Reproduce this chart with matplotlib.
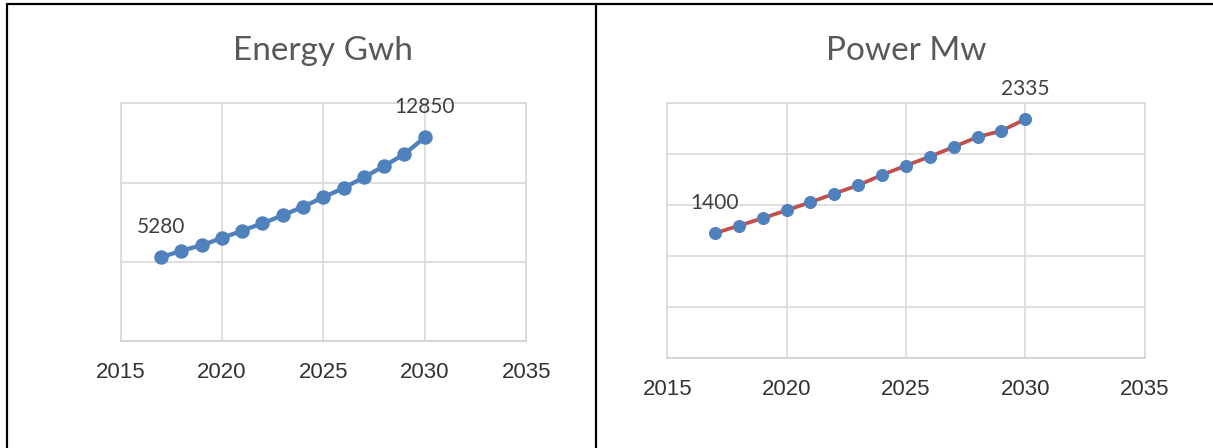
import matplotlib
matplotlib.use("Agg")
import matplotlib.pyplot as plt
from matplotlib.lines import Line2D
import numpy as np

years = [2017, 2018, 2019, 2020, 2021, 2022, 2023, 2024, 2025, 2026, 2027, 2028, 2029, 2030]
energy_gwh = [5280, 5700, 6040, 6500, 6960, 7430, 7930, 8475, 9070, 9655, 10330, 11045, 11800, 12850]
power_mw = [1400, 1462, 1523, 1588, 1654, 1725, 1793, 1878, 1954, 2028, 2107, 2189, 2239, 2335]
x_ticks = [2015, 2020, 2025, 2030, 2035]
titles = ["Energy Gwh", "Power Mw"]

W, H = 1213, 448
fig = plt.figure(figsize=(W / 100, H / 100), dpi=100)
fig.patch.set_facecolor("white")

grid_c = "#D9D9D9"
blue = "#4F81BD"
red = "#C0504D"
tick_c = "#333333"
title_c = "#595959"
label_c = "#404040"

def fx(px):
    return px / W

def fy(py):
    return 1 - py / H

# table borders
for (x0, y0, x1, y1) in [(6, 4, W, 4), (6.7, 4, 6.7, H), (596.3, 4, 596.3, H)]:
    fig.add_artist(Line2D([fx(x0), fx(x1)], [fy(y0), fy(y1)], color="black", lw=1.6,
                          transform=fig.transFigure, solid_capstyle="butt"))

def make_ax(rect, yvals, ylim, nint, line_color, lw, ms, title, title_x):
    l, b, r, t = rect
    ax = fig.add_axes([fx(l), fy(b), fx(r) - fx(l), fy(t) - fy(b)])
    ax.set_xlim(2015, 2035)
    ax.set_ylim(*ylim)
    ax.set_xticks(x_ticks)
    ax.set_yticks(np.linspace(ylim[0], ylim[1], nint + 1))
    ax.set_yticklabels([])
    ax.grid(True, color=grid_c, lw=1.2)
    ax.set_axisbelow(True)
    for s in ax.spines.values():
        s.set_color(grid_c)
        s.set_linewidth(1.2)
    ax.spines["bottom"].set_color("#CFCFCF")
    ax.tick_params(axis="both", length=0)
    ax.tick_params(axis="y", left=False, labelleft=False)
    ax.tick_params(axis="x", pad=15, labelsize=16, labelcolor=tick_c)
    for lab in ax.get_xticklabels():
        lab.set_fontfamily("Liberation Sans")
    ax.plot(years, yvals, color=line_color, lw=lw, marker="o", ms=ms,
            markerfacecolor=blue, markeredgecolor=blue, zorder=3, clip_on=False)
    for i in (0, len(years) - 1):
        ax.annotate(str(yvals[i]), (years[i], yvals[i]), xytext=(0, 21.6),
                    textcoords="offset points", ha="center", va="center",
                    fontsize=15, color=label_c, family="Lato")
    fig.text(fx(title_x), fy(60), title, ha="center", va="baseline",
             fontsize=24, color=title_c, family="Lato")
    return ax

make_ax((120.5, 341, 526.2, 103.3), energy_gwh, (0, 15000), 3, blue, 3.1, 9.4,
        titles[0], 323.3)
make_ax((667.2, 357.7, 1144.6, 103.3), power_mw, (380, 2465), 5, red, 2.7, 8.4,
        titles[1], 906)

fig.savefig("out.png", dpi=100, facecolor="white")
